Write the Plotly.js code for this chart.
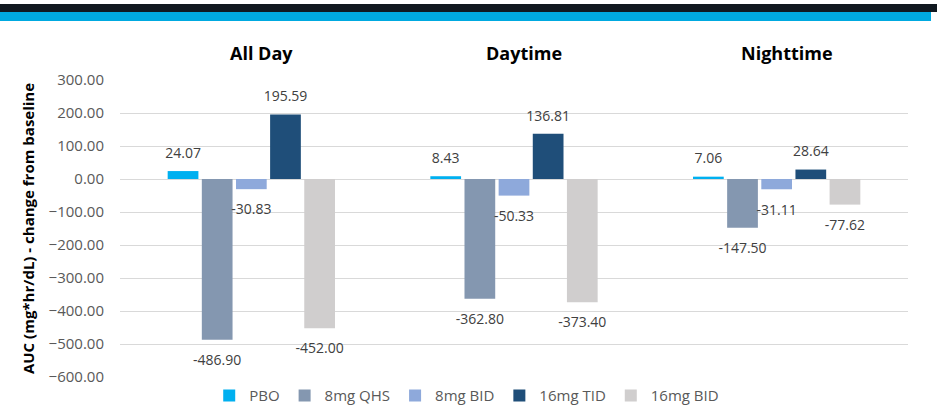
<!DOCTYPE html>
<html>
<head>
<meta charset="utf-8">
<script src="https://cdn.plot.ly/plotly-3.0.1.min.js"></script>
<style>html,body{margin:0;padding:0;background:#fff;}#chart{width:944px;height:408px;}</style>
</head>
<body>
<div id="chart"></div>
<script>
const categories = ['All Day', 'Daytime', 'Nighttime'];
const seriesNames = ['PBO', '8mg QHS', '8mg BID', '16mg TID', '16mg BID'];
const pbo   = [24.07, 8.43, 7.06];
const qhs8  = [-486.90, -362.80, -147.50];
const bid8  = [-30.83, -50.33, -31.11];
const tid16 = [195.59, 136.81, 28.64];
const bid16 = [-452.00, -373.40, -77.62];
const yTickVals = [300, 200, 100, 0, -100, -200, -300, -400, -500, -600];

const seriesValues = [pbo, qhs8, bid8, tid16, bid16];
const colors = ['#00B0F0', '#8497B0', '#8EA9DB', '#1F4E79', '#D0CECE'];
const FONT = 'Open Sans, Noto Sans, sans-serif';

const traces = [];
seriesValues.forEach((vals, i) => {
  traces.push({
    type: 'bar', name: seriesNames[i], x: categories, y: vals,
    marker: {color: colors[i], line: {width: 0}},
    hoverinfo: 'x+y+name'
  });
});
seriesValues.forEach((vals, i) => {
  traces.push({
    type: 'scatter', mode: 'markers+text', x: categories, y: vals,
    showlegend: false, hoverinfo: 'skip', cliponaxis: false,
    marker: {opacity: 0, size: vals.map(v => v >= 0 ? 14 : 22)},
    text: vals.map(v => v.toFixed(2)),
    textposition: vals.map(v => v >= 0 ? 'top center' : 'bottom center'),
    textfont: {family: FONT, size: 14, color: '#404040'}
  });
});

const layout = {
  width: 944, height: 408,
  margin: {l: 120, r: 36, t: 80, b: 31},
  paper_bgcolor: '#ffffff', plot_bgcolor: '#ffffff',
  font: {family: FONT, color: '#595959'},
  barmode: 'group', bargap: 0.35, bargroupgap: 0.1,
  scattermode: 'group', scattergap: 0.35,
  xaxis: {showticklabels: false, showgrid: false, zeroline: false, showline: false, ticks: ''},
  yaxis: {
    range: [-600, 300], tickvals: yTickVals, tickformat: '.2f', automargin: false,
    showgrid: true, gridcolor: '#D9D9D9', gridwidth: 1, zeroline: false, showline: false,
    tickfont: {family: FONT, size: 15, color: '#595959'},
    ticklabelstandoff: 15,
    title: {text: 'AUC (mg*hr/dL) - change from baseline', standoff: 10,
            font: {family: FONT, size: 15, color: '#000000', weight: 'bold'}}
  },
  legend: {
    orientation: 'h', x: 0.44, xanchor: 'center', yref: 'container', y: 0.03, yanchor: 'middle',
    font: {family: FONT, size: 15, color: '#595959'}, itemwidth: 30
  },
  annotations: categories.map(c => ({
    x: c, xref: 'x', y: 1, yref: 'paper', yanchor: 'middle', yshift: 27, xshift: 10,
    text: '<b>' + c + '</b>', showarrow: false,
    font: {family: FONT, size: 18, color: '#000000'}
  })),
  shapes: [
    {type: 'rect', xref: 'paper', yref: 'paper', x0: -0.1523, x1: 1.0368, y0: 1.2290, y1: 1.2559,
     fillcolor: '#111820', line: {width: 0}},
    {type: 'rect', xref: 'paper', yref: 'paper', x0: -0.1523, x1: 1.0292, y0: 1.1987, y1: 1.2290,
     fillcolor: '#00A9E0', line: {width: 0}}
  ]
};

Plotly.newPlot('chart', traces, layout, {displayModeBar: false, staticPlot: true});
</script>
</body>
</html>
